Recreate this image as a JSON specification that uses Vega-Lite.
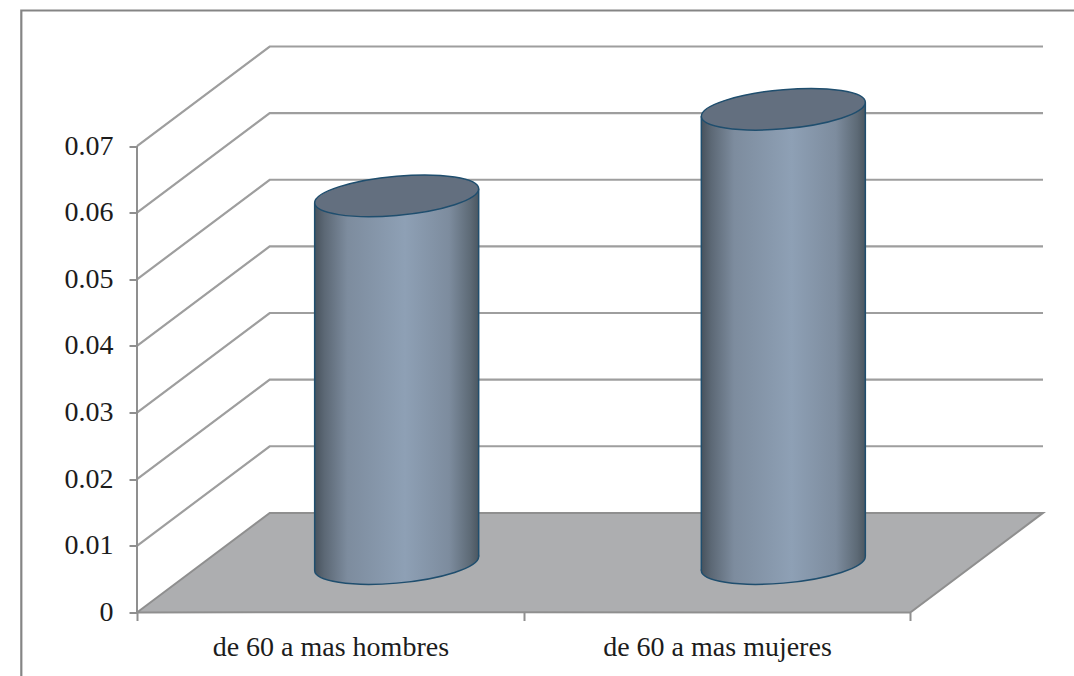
{
  "$schema": "https://vega.github.io/schema/vega-lite/v6.json",
  "autosize": "none",
  "width": 906,
  "height": 568,
  "padding": {"left": 137, "top": 44.5, "right": 31, "bottom": 63.5},
  "background": "#ffffff",
  "config": {"view": {"stroke": null}},
  "datasets": {
    "niveles": [
      {"nivel": 0.01, "x": 0, "y": 0.01}, {"nivel": 0.01, "x": 0.3432, "y": 0.02495}, {"nivel": 0.01, "x": 2.3432, "y": 0.02495},
      {"nivel": 0.02, "x": 0, "y": 0.02}, {"nivel": 0.02, "x": 0.3432, "y": 0.03495}, {"nivel": 0.02, "x": 2.3432, "y": 0.03495},
      {"nivel": 0.03, "x": 0, "y": 0.03}, {"nivel": 0.03, "x": 0.3432, "y": 0.04495}, {"nivel": 0.03, "x": 2.3432, "y": 0.04495},
      {"nivel": 0.04, "x": 0, "y": 0.04}, {"nivel": 0.04, "x": 0.3432, "y": 0.05495}, {"nivel": 0.04, "x": 2.3432, "y": 0.05495},
      {"nivel": 0.05, "x": 0, "y": 0.05}, {"nivel": 0.05, "x": 0.3432, "y": 0.06495}, {"nivel": 0.05, "x": 2.3432, "y": 0.06495},
      {"nivel": 0.06, "x": 0, "y": 0.06}, {"nivel": 0.06, "x": 0.3432, "y": 0.07495}, {"nivel": 0.06, "x": 2.3432, "y": 0.07495},
      {"nivel": 0.07, "x": 0, "y": 0.07}, {"nivel": 0.07, "x": 0.3432, "y": 0.08495}, {"nivel": 0.07, "x": 2.3432, "y": 0.08495}
    ],
    "piso": [
      {"x": 0, "y": 0, "y2": 0},
      {"x": 0.3432, "y": 0.01495, "y2": 0.00005},
      {"x": 2, "y": 0.01495, "y2": 0},
      {"x": 2.3432, "y": 0.01495, "y2": 0.01495}
    ],
    "marco": [
      {"orden": 1, "x": -0.2992, "y": -0.0097},
      {"orden": 2, "x": -0.2992, "y": 0.09035},
      {"orden": 3, "x": 2.4271, "y": 0.09035}
    ],
    "eje": [{"x": 0, "y": 0, "y2": 0.07}],
    "cilindros": [
      {"categoria": "de 60 a mas hombres", "centro": 0.6716, "cima": 0.06254, "base": 0.00735},
      {"categoria": "de 60 a mas mujeres", "centro": 1.6716, "cima": 0.07553, "base": 0.00735}
    ],
    "cuerpos": [
      {"categoria": "de 60 a mas hombres", "x": 0.4595, "cima": 0.06149, "base": 0.0063},
      {"categoria": "de 60 a mas hombres", "x": 0.8837, "cima": 0.06359, "base": 0.0084},
      {"categoria": "de 60 a mas mujeres", "x": 1.4595, "cima": 0.07448, "base": 0.0063},
      {"categoria": "de 60 a mas mujeres", "x": 1.8837, "cima": 0.07658, "base": 0.0084}
    ]
  },
  "layer": [
    {
      "data": {"name": "marco"},
      "mark": {"type": "line", "stroke": "#858585", "strokeWidth": 2.2, "clip": false},
      "encoding": {
        "x": {
          "field": "x", "type": "quantitative",
          "scale": {"domain": [0, 2.3432], "nice": false, "zero": false},
          "axis": {
            "title": null, "grid": false, "domain": false,
            "values": [0, 0.5, 1, 1.5, 2],
            "tickSize": 8, "tickWidth": 2, "tickColor": "#8f8f8f",
            "tickOpacity": {"condition": {"test": "datum.value === 0.5 || datum.value === 1.5", "value": 0}, "value": 1},
            "labelExpr": "datum.value === 0.5 ? 'de 60 a mas hombres' : datum.value === 1.5 ? 'de 60 a mas mujeres' : ''",
            "labelFont": "Liberation Serif", "labelFontSize": 28, "labelColor": "#1c1c1c",
            "labelPadding": 13, "labelLimit": 400, "labelOverlap": false, "labelFlush": false, "labelBound": false
          }
        },
        "y": {
          "field": "y", "type": "quantitative",
          "scale": {"domain": [0, 0.08525], "nice": false, "zero": false},
          "axis": {
            "title": null, "grid": false, "domain": false,
            "values": [0, 0.01, 0.02, 0.03, 0.04, 0.05, 0.06, 0.07],
            "format": ".2~f",
            "tickSize": 8, "tickWidth": 2, "tickColor": "#8f8f8f",
            "labelFont": "Liberation Serif", "labelFontSize": 28, "labelColor": "#1c1c1c",
            "labelPadding": 16, "labelOverlap": false, "labelBound": false
          }
        },
        "order": {"field": "orden", "type": "quantitative"}
      }
    },
    {
      "data": {"name": "niveles"},
      "mark": {"type": "line", "stroke": "#9e9e9e", "strokeWidth": 2.2, "clip": false},
      "encoding": {
        "x": {"field": "x", "type": "quantitative"},
        "y": {"field": "y", "type": "quantitative"},
        "detail": {"field": "nivel"}
      }
    },
    {
      "data": {"name": "piso"},
      "mark": {"type": "area", "fill": "#adaeb0", "stroke": "#8f8f8f", "strokeWidth": 2, "clip": false},
      "encoding": {
        "x": {"field": "x", "type": "quantitative"},
        "y": {"field": "y", "type": "quantitative"},
        "y2": {"field": "y2"}
      }
    },
    {
      "data": {"name": "eje"},
      "mark": {"type": "rule", "stroke": "#8f8f8f", "strokeWidth": 2, "clip": false},
      "encoding": {
        "x": {"field": "x", "type": "quantitative"},
        "y": {"field": "y", "type": "quantitative"},
        "y2": {"field": "y2"}
      }
    },
    {
      "data": {"name": "cilindros"},
      "mark": {
        "type": "point", "filled": true, "opacity": 1, "clip": false,
        "shape": "M1,-0.0854 C1,0.0466 0.5523,0.1918 0,0.239 C-0.5523,0.2862 -1,0.2174 -1,0.0854 C-1,-0.0466 -0.5523,-0.1918 0,-0.239 C0.5523,-0.2862 1,-0.2174 1,-0.0854 Z",
        "size": 26896,
        "stroke": "#1f4e6e", "strokeWidth": 1.5,
        "fill": {"x1": 0, "y1": 0, "x2": 1, "y2": 0, "gradient": "linear", "stops": [
          {"offset": 0, "color": "#47525d"}, {"offset": 0.06, "color": "#5c6875"}, {"offset": 0.2, "color": "#7d8c9e"}, {"offset": 0.55, "color": "#8ea0b5"}, {"offset": 0.82, "color": "#7d8c9e"}, {"offset": 0.95, "color": "#5d6a76"}, {"offset": 1, "color": "#4b5761"}
        ]}
      },
      "encoding": {
        "x": {"field": "centro", "type": "quantitative"},
        "y": {"field": "base", "type": "quantitative"}
      }
    },
    {
      "data": {"name": "cuerpos"},
      "mark": {
        "type": "area", "clip": false,
        "fill": {"x1": 0, "y1": 0, "x2": 1, "y2": 0, "gradient": "linear", "stops": [
          {"offset": 0, "color": "#47525d"}, {"offset": 0.06, "color": "#5c6875"}, {"offset": 0.2, "color": "#7d8c9e"}, {"offset": 0.55, "color": "#8ea0b5"}, {"offset": 0.82, "color": "#7d8c9e"}, {"offset": 0.95, "color": "#5d6a76"}, {"offset": 1, "color": "#4b5761"}
        ]}
      },
      "encoding": {
        "x": {"field": "x", "type": "quantitative"},
        "y": {"field": "cima", "type": "quantitative"},
        "y2": {"field": "base"},
        "detail": {"field": "categoria"}
      }
    },
    {
      "data": {"name": "cuerpos"},
      "mark": {"type": "rule", "stroke": "#1f4e6e", "strokeWidth": 1.5, "clip": false},
      "encoding": {
        "x": {"field": "x", "type": "quantitative"},
        "y": {"field": "cima", "type": "quantitative"},
        "y2": {"field": "base"}
      }
    },
    {
      "data": {"name": "cilindros"},
      "mark": {
        "type": "point", "filled": true, "opacity": 1, "clip": false,
        "shape": "M1,-0.0854 C1,0.0466 0.5523,0.1918 0,0.239 C-0.5523,0.2862 -1,0.2174 -1,0.0854 C-1,-0.0466 -0.5523,-0.1918 0,-0.239 C0.5523,-0.2862 1,-0.2174 1,-0.0854 Z",
        "size": 26896,
        "fill": "#636f7f", "stroke": "#1f4e6e", "strokeWidth": 1.5
      },
      "encoding": {
        "x": {"field": "centro", "type": "quantitative"},
        "y": {"field": "cima", "type": "quantitative"}
      }
    }
  ]
}
